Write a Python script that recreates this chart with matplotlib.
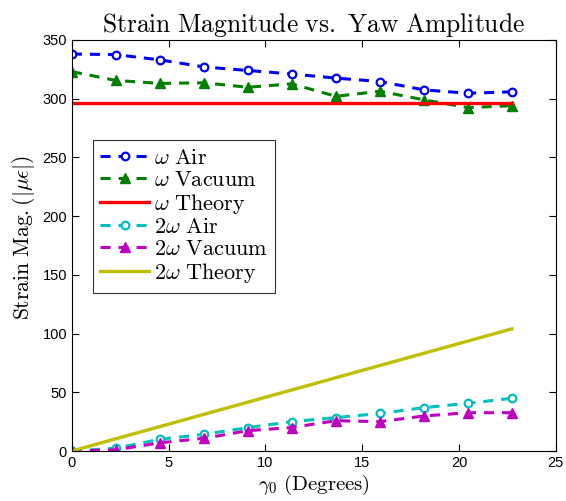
import matplotlib
matplotlib.use("Agg")
import matplotlib.pyplot as plt

plt.rcParams['mathtext.fontset'] = 'cm'
plt.rcParams['font.family'] = ['Liberation Sans', 'DejaVu Sans']

gamma0 = [0, 2.27, 4.55, 6.82, 9.09, 11.36, 13.64, 15.91, 18.18, 20.45, 22.73]
w_air = [338, 337.5, 333, 327, 324, 321, 317.5, 314.6, 307.5, 304.6, 305.8]
w_vac = [323, 315.5, 313, 313.5, 309.7, 312.6, 302, 306.3, 299, 292.4, 294]
w_theory = [296, 296]
w2_air = [0, 2.3, 10, 14.2, 19.9, 25, 28.4, 32, 36.9, 40.6, 44.9]
w2_vac = [0, 1, 7, 10.8, 17.3, 20, 25.8, 25, 29.8, 32.6, 32.6]
w2_theory = [0, 104]
theory_x = [0, 22.73]

fig = plt.figure(figsize=(5.66, 5.01), dpi=100)
ax = fig.add_axes([0.127, 0.0998, 0.855, 0.8205])

dash = (0, (3.3, 2.6))
lw = 2.2
ms_o = 5.5
ms_t = 7.5
ax.plot(gamma0, w_air, color='#0000ff', linestyle=dash, lw=lw, marker='o', ms=ms_o,
        mfc='white', mec='#0000ff', mew=1.6, label=r'$\omega\ \mathrm{Air}$')
ax.plot(gamma0, w_vac, color='#007f00', linestyle=dash, lw=lw, marker='^', ms=ms_t,
        mfc='#007f00', mec='#007f00', label=r'$\omega\ \mathrm{Vacuum}$')
ax.plot(theory_x, w_theory, color='#ff0000', lw=2.4, label=r'$\omega\ \mathrm{Theory}$')
ax.plot(gamma0, w2_air, color='#00bfbf', linestyle=dash, lw=lw, marker='o', ms=ms_o,
        mfc='white', mec='#00bfbf', mew=1.6, label=r'$2\omega\ \mathrm{Air}$')
ax.plot(gamma0, w2_vac, color='#bf00bf', linestyle=dash, lw=lw, marker='^', ms=ms_t,
        mfc='#bf00bf', mec='#bf00bf', label=r'$2\omega\ \mathrm{Vacuum}$')
ax.plot(theory_x, w2_theory, color='#bfbf00', lw=2.4, label=r'$2\omega\ \mathrm{Theory}$')

ax.set_xlim(0, 25)
ax.set_ylim(0, 350)
ax.set_xticks([0, 5, 10, 15, 20, 25])
ax.set_yticks([0, 50, 100, 150, 200, 250, 300, 350])
ax.tick_params(direction='in', top=True, right=True, labelsize=10.5, length=5, width=0.8)
for s in ax.spines.values():
    s.set_linewidth(0.8)

ax.set_title(r'$\mathrm{Strain\ Magnitude\ vs.\ Yaw\ Amplitude}$', fontsize=18.4, pad=6)
ax.set_xlabel(r'$\gamma_0\ \mathrm{(Degrees)}$', fontsize=15, labelpad=2)
ax.set_ylabel(r'$\mathrm{Strain\ Mag.}(|\mu\epsilon|)$', fontsize=15.5)
ax.yaxis.set_label_coords(-0.072, 0.52)

leg = ax.legend(loc='upper left', bbox_to_anchor=(0.043, 0.757), fontsize=16,
                frameon=True, fancybox=False, edgecolor='black', handlelength=2.2,
                handletextpad=0.2, borderpad=0.35, labelspacing=0.05, borderaxespad=0)
leg.get_frame().set_linewidth(0.8)

fig.savefig('out.png', dpi=100)
